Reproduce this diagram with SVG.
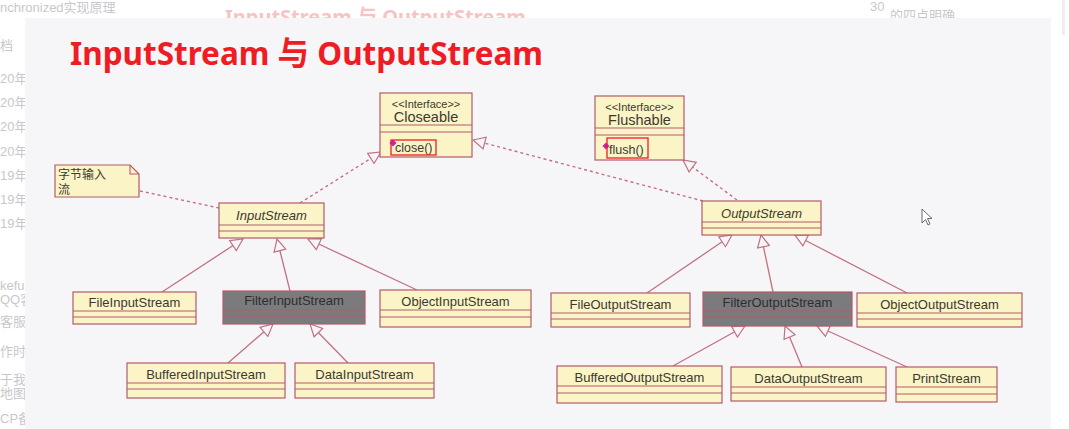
<svg xmlns="http://www.w3.org/2000/svg" width="1069" height="429" viewBox="0 0 1069 429">
<defs>
<style>
.bg{font-family:"Liberation Sans","Noto Sans CJK SC",sans-serif;fill:#c8c8cc;font-size:13px}
.box{fill:#fbf4c6;stroke:#b45a6c;stroke-width:1.2}
.gbox{fill:#7b7b7d;stroke:#b45a6c;stroke-width:1.2}
.div{stroke:#b45a6c;stroke-width:1.1}
.cls{font-family:"Liberation Sans",Arial,sans-serif;font-size:13px;fill:#3c3a30;text-anchor:middle}
.gcls{font-family:"Liberation Sans",Arial,sans-serif;font-size:13px;fill:#2e2e30;text-anchor:middle}
.it{font-style:italic}
.ster{font-family:"Liberation Sans",Arial,sans-serif;font-size:11px;fill:#3c3a30;text-anchor:middle}
.iname{font-family:"Liberation Sans",Arial,sans-serif;font-size:14.5px;fill:#3c3a30;text-anchor:middle}
.meth{font-family:"Liberation Sans",Arial,sans-serif;font-size:12.5px;fill:#3c3a30}
.gen{fill:none;stroke:#c27282;stroke-width:1.3;marker-end:url(#tri)}
.real{fill:none;stroke:#c27282;stroke-width:1.4;stroke-dasharray:3 3;marker-end:url(#tri)}
.dep{fill:none;stroke:#c27282;stroke-width:1.4;stroke-dasharray:3 3}
.hl{fill:none;stroke:#ee1c24;stroke-width:1.3}
</style>
<marker id="tri" viewBox="0 0 14 14" refX="13" refY="7" markerWidth="14" markerHeight="14" markerUnits="userSpaceOnUse" orient="auto">
<path d="M1,1 L13,7 L1,13 Z" fill="#f6f5f7" stroke="#c27282" stroke-width="1.2"/>
</marker>
</defs>
<rect width="1069" height="429" fill="#ffffff"/>
<g id="background-page">
<text class="bg" x="0" y="12">nchronized实现原理</text>
<text x="225" y="24" font-family="'Noto Sans','Noto Sans CJK SC',sans-serif" font-weight="bold" font-size="20" fill="#f6c4c4">InputStream 与 OutputStream</text>
<text class="bg" x="870" y="11">30</text>
<text class="bg" x="890" y="20">的四点明确</text>
<text class="bg" x="0" y="50">档</text>
<text class="bg" x="0" y="83">20年</text>
<text class="bg" x="0" y="107">20年</text>
<text class="bg" x="0" y="131">20年</text>
<text class="bg" x="0" y="156">20年</text>
<text class="bg" x="0" y="180">19年</text>
<text class="bg" x="0" y="204">19年</text>
<text class="bg" x="0" y="228">19年</text>
<text class="bg" x="0" y="290">kefu(</text>
<text class="bg" x="0" y="304">QQ客</text>
<text class="bg" x="0" y="326">客服</text>
<text class="bg" x="0" y="356">作时间</text>
<text class="bg" x="0" y="384">于我们</text>
<text class="bg" x="0" y="398">地图</text>
<text class="bg" x="0" y="423">CP备</text>
<rect x="1062" y="0" width="3" height="35" fill="#eeeeee"/>
</g>
<rect x="25" y="18" width="1026" height="411" fill="#f6f5f7"/>
<text id="title" x="70" y="65" font-family="'Noto Sans','Noto Sans CJK SC',sans-serif" font-weight="bold" font-size="33" fill="#ee1c24" textLength="473" lengthAdjust="spacingAndGlyphs">InputStream 与 OutputStream</text>

<g id="connectors">
<path class="dep" d="M140,191 L219,208"/>
<path class="real" d="M300,203 L381,152"/>
<path class="real" d="M703,201 L473,140"/>
<path class="real" d="M737,200 L683,160"/>
<path class="gen" d="M162,292 L243,239"/>
<path class="gen" d="M290,291 L277,239"/>
<path class="gen" d="M417,290 L308,239"/>
<path class="gen" d="M228,363 L273,324"/>
<path class="gen" d="M348,363 L310,324"/>
<path class="gen" d="M647,293 L732,235"/>
<path class="gen" d="M773,292 L761,235"/>
<path class="gen" d="M907,293 L795,235"/>
<path class="gen" d="M673,366 L745,326"/>
<path class="gen" d="M802,367 L785,326"/>
<path class="gen" d="M907,367 L817,326"/>
</g>

<g id="note">
<path class="box" d="M55,165 L130,165 L139,174 L139,197 L55,197 Z"/>
<path class="div" fill="none" d="M130,165 L130,174 L139,174"/>
<text x="58" y="179" font-family="'Noto Sans CJK SC',sans-serif" font-size="12" fill="#3c3a30">字节输入</text>
<text x="58" y="194" font-family="'Noto Sans CJK SC',sans-serif" font-size="12" fill="#3c3a30">流</text>
</g>

<g id="closeable">
<rect class="box" x="380" y="93" width="92" height="64"/>
<line class="div" x1="380" y1="125" x2="472" y2="125"/>
<line class="div" x1="380" y1="132" x2="472" y2="132"/>
<text class="ster" x="426" y="108">&lt;&lt;Interface&gt;&gt;</text>
<text class="iname" x="426" y="122">Closeable</text>
<path d="M393,139.5 L396.5,143 L393,146.5 L389.5,143 Z" fill="#c020c0"/>
<text class="meth" x="395" y="152">close()</text>
<rect class="hl" x="391" y="140" width="45" height="15"/>
</g>

<g id="flushable">
<rect class="box" x="595" y="96" width="89" height="64"/>
<line class="div" x1="595" y1="128" x2="684" y2="128"/>
<line class="div" x1="595" y1="135" x2="684" y2="135"/>
<text class="ster" x="639.5" y="111">&lt;&lt;Interface&gt;&gt;</text>
<text class="iname" x="639.5" y="125">Flushable</text>
<path d="M606,142.5 L609.5,146 L606,149.5 L602.5,146 Z" fill="#c020c0"/>
<text class="meth" x="609" y="154">flush()</text>
<rect class="hl" x="607" y="138" width="41" height="20"/>
</g>

<g id="inputstream">
<rect class="box" x="219" y="203" width="105" height="35"/>
<line class="div" x1="219" y1="225" x2="324" y2="225"/>
<line class="div" x1="219" y1="231" x2="324" y2="231"/>
<text class="cls it" x="271.5" y="220">InputStream</text>
</g>

<g id="outputstream">
<rect class="box" x="702" y="201" width="119" height="34"/>
<line class="div" x1="702" y1="222" x2="821" y2="222"/>
<line class="div" x1="702" y1="228" x2="821" y2="228"/>
<text class="cls it" x="761.5" y="218">OutputStream</text>
</g>

<g id="fileinputstream">
<rect class="box" x="73" y="292" width="123" height="32"/>
<line class="div" x1="73" y1="311" x2="196" y2="311"/>
<line class="div" x1="73" y1="317" x2="196" y2="317"/>
<text class="cls" x="134.5" y="307">FileInputStream</text>
</g>

<g id="filterinputstream">
<rect class="gbox" x="223" y="291" width="142" height="33"/>
<line class="div" x1="223" y1="310" x2="365" y2="310"/>
<line class="div" x1="223" y1="316" x2="365" y2="316"/>
<text class="gcls" x="294" y="305">FilterInputStream</text>
</g>

<g id="objectinputstream">
<rect class="box" x="380" y="290" width="151" height="37"/>
<line class="div" x1="380" y1="310" x2="531" y2="310"/>
<line class="div" x1="380" y1="317" x2="531" y2="317"/>
<text class="cls" x="455.5" y="306">ObjectInputStream</text>
</g>

<g id="bufferedinputstream">
<rect class="box" x="127" y="363" width="158" height="35"/>
<line class="div" x1="127" y1="383" x2="285" y2="383"/>
<line class="div" x1="127" y1="389" x2="285" y2="389"/>
<text class="cls" x="206" y="379">BufferedInputStream</text>
</g>

<g id="datainputstream">
<rect class="box" x="295" y="363" width="139" height="35"/>
<line class="div" x1="295" y1="383" x2="434" y2="383"/>
<line class="div" x1="295" y1="389" x2="434" y2="389"/>
<text class="cls" x="364.5" y="379">DataInputStream</text>
</g>

<g id="fileoutputstream">
<rect class="box" x="551" y="293" width="139" height="34"/>
<line class="div" x1="551" y1="313" x2="690" y2="313"/>
<line class="div" x1="551" y1="319" x2="690" y2="319"/>
<text class="cls" x="620.5" y="309">FileOutputStream</text>
</g>

<g id="filteroutputstream">
<rect class="gbox" x="703" y="292" width="149" height="34"/>
<line class="div" x1="703" y1="311" x2="852" y2="311"/>
<line class="div" x1="703" y1="317" x2="852" y2="317"/>
<text class="gcls" x="777.5" y="307">FilterOutputStream</text>
</g>

<g id="objectoutputstream">
<rect class="box" x="857" y="293" width="165" height="34"/>
<line class="div" x1="857" y1="313" x2="1022" y2="313"/>
<line class="div" x1="857" y1="319" x2="1022" y2="319"/>
<text class="cls" x="939.5" y="309">ObjectOutputStream</text>
</g>

<g id="bufferedoutputstream">
<rect class="box" x="557" y="366" width="165" height="37"/>
<line class="div" x1="557" y1="386" x2="722" y2="386"/>
<line class="div" x1="557" y1="393" x2="722" y2="393"/>
<text class="cls" x="639.5" y="382">BufferedOutputStream</text>
</g>

<g id="dataoutputstream">
<rect class="box" x="731" y="367" width="155" height="34"/>
<line class="div" x1="731" y1="387" x2="886" y2="387"/>
<line class="div" x1="731" y1="393" x2="886" y2="393"/>
<text class="cls" x="808.5" y="383">DataOutputStream</text>
</g>

<g id="printstream">
<rect class="box" x="896" y="367" width="101" height="35"/>
<line class="div" x1="896" y1="387" x2="997" y2="387"/>
<line class="div" x1="896" y1="394" x2="997" y2="394"/>
<text class="cls" x="946.5" y="383">PrintStream</text>
</g>

<path id="cursor" d="M922,209 L922,223 L925.5,219.5 L928,225 L930,224 L927.5,218.5 L932,218.5 Z" fill="#ffffff" stroke="#6a6a6a" stroke-width="1"/>
</svg>
